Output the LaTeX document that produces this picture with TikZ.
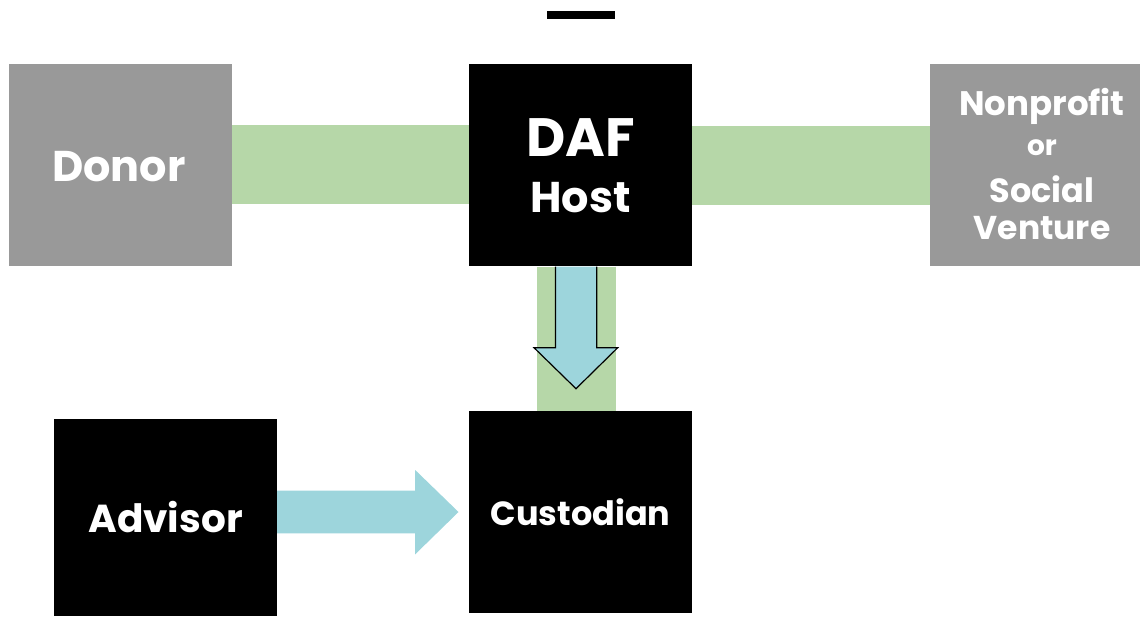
\documentclass[tikz,border=0pt]{standalone}
\usepackage{fontspec}
\setmainfont{Poppins}
\usetikzlibrary{calc}
\definecolor{boxgray}{HTML}{999999}
\definecolor{flowgreen}{HTML}{B6D7A8}
\definecolor{flowblue}{HTML}{9DD5DC}
\newcommand{\fsz}[1]{\bfseries\fontsize{#1}{#1}\selectfont}
\begin{document}
\begin{tikzpicture}[x=1pt,y=-1pt,
  party/.style={fill=boxgray, text=white, minimum width=223pt, minimum height=202pt, inner sep=0pt},
  hub/.style={fill=black, text=white, minimum width=223pt, minimum height=202pt, inner sep=0pt},
  caption/.style={text=white, inner sep=0pt, anchor=base},
  band/.style={flowgreen, line width=79pt},
  flowarrow/.style={fill=flowblue, draw=black, line width=1.2pt, line join=miter},
  pointer/.style={fill=flowblue, draw=none}]
\useasboundingbox (0,0) rectangle (1140,617);

% top bar
\node[fill=black, minimum width=68pt, minimum height=8pt, inner sep=0pt] (bar) at (581,15) {};

% parties
\node[party] (donor) at (120.5,165) {};
\node[hub] (daf) at (580.5,165.5) {};
\node[party] (npo) at (1041.5,165) {};
\node[hub, font=\fsz{33.5}] (cust) at (580.5,512) {Custodian};
\node[hub, minimum height=197pt, font=\fsz{39}] (adv) at (165.5,517.5) {Advisor};

% labels placed on their baselines
\node[caption, font=\fsz{43}] (donort) at (119,181.7) {Donor};
\node[caption, font=\fsz{54}] (dafa) at (580.5,156.7) {DAF};
\node[caption, font=\fsz{43}] (dafb) at (580.5,213) {Host};
\node[caption, font=\fsz{34}] (npoa) at (1042,116) {Nonprofit};
\node[caption, font=\fsz{28}] (npob) at (1042,156) {or};
\node[caption, font=\fsz{33.5}] (npoc) at (1042,202.7) {Social};
\node[caption, font=\fsz{33}] (npod) at (1042,239.3) {Venture};

% green flow bands
\draw[band] (donor.east) -- (donor.east -| daf.west);
\draw[band] (daf.east) -- (daf.east -| npo.west);
\draw[band] ([xshift=-4pt]daf.south) -- ([xshift=-4pt]daf.south |- cust.north);

% outlined down arrow
\coordinate (dtop) at ([xshift=-4.5pt]daf.south);
\draw[flowarrow] ($(dtop)+(-20.5,0)$) -- ($(dtop)+(-20.5,81)$) -- ($(dtop)+(-42,81)$)
  -- ($(dtop)+(0,122)$) -- ($(dtop)+(41.7,81)$) -- ($(dtop)+(20.7,81)$) -- ($(dtop)+(20.7,0)$);

% advisor arrow
\coordinate (rs) at ($(adv.east)+(0,-5.5)$);
\fill[pointer] ($(rs)+(0,-21.3)$) -- ($(rs)+(138,-21.3)$) -- ($(rs)+(138,-42)$)
  -- ($(rs)+(181.3,0)$) -- ($(rs)+(138,42.3)$) -- ($(rs)+(138,21.3)$) -- ($(rs)+(0,21.3)$) -- cycle;
\end{tikzpicture}
\end{document}
